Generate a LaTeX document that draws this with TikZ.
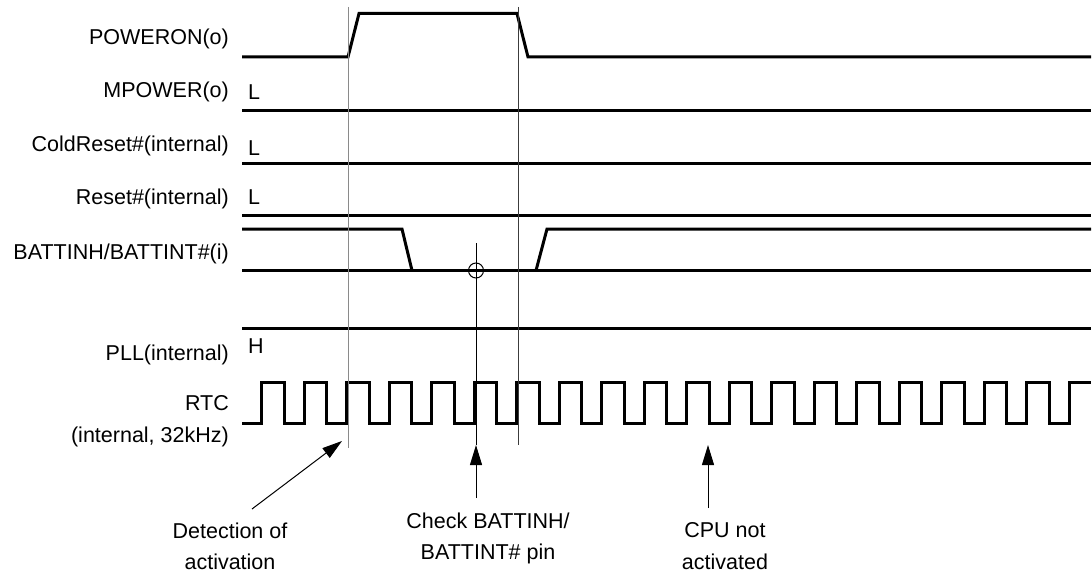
\documentclass[tikz,border=0pt]{standalone}
\usepackage{fontspec}
\setmainfont{Liberation Sans}
\usetikzlibrary{arrows.meta, positioning}
\definecolor{markGray}{HTML}{8A8A8A}
\definecolor{markDark}{HTML}{3C3C3C}

\begin{document}
\begin{tikzpicture}[x=1pt, y=-1pt,
  sig/.style={line width=3pt},
  lbl/.style={anchor=base east, inner sep=0pt, font=\fontsize{21.5}{31.5}\selectfont},
  lvl/.style={anchor=base west, inner sep=0pt, font=\fontsize{21.5}{31.5}\selectfont},
  note/.style={anchor=north, align=center, inner sep=0pt, font=\fontsize{21.5}{31.5}\selectfont},
  markline/.style={line width=1pt, markGray},
  arr/.style={-{Triangle[length=20pt, width=12pt]}, line width=1pt}
]
\useasboundingbox (0,0) rectangle (1092,575);

\node[lbl] (lpoweron) at (229,44.3) {POWERON(o)};
\node[lbl] (lmpower) at (229,98) {MPOWER(o)};
\node[lbl] (lcold) at (229,151.7) {ColdReset\#(internal)};
\node[lbl] (lreset) at (229,204.3) {Reset\#(internal)};
\node[lbl] (lbatt) at (229,259) {BATTINH/BATTINT\#(i)};
\node[lbl] (lpll) at (229,360) {PLL(internal)};
\node[lbl, anchor=north east, align=right] (lrtc) at (229,395.5) {RTC\\(internal, 32kHz)};

\node[lvl, right=19pt of lmpower.base east, anchor=base west, yshift=-2pt] (vmpower) {L};
\node[lvl, right=19pt of lcold.base east, anchor=base west, yshift=-4pt] (vcold) {L};
\node[lvl, right=19pt of lreset.base east, anchor=base west] (vreset) {L};
\node[lvl, right=19pt of lpll.base east, anchor=base west, yshift=7pt] (vpll) {H};

\draw[sig] (242,57) -- (348,57) -- (359,13.5) -- (517,13.5) -- (528,57) -- (1091,57);
\draw[sig] (242,111) -- (1091,111);
\draw[sig] (242,163.5) -- (1091,163.5);
\draw[sig] (242,215) -- (1091,215);
\draw[sig] (242,229) -- (402,229) -- (412,270.5);
\draw[sig] (536,270.5) -- (547,229) -- (1091,229);
\draw[sig] (242,270.5) -- (1091,270.5);
\draw[sig] (242,328) -- (1091,328);
\draw[sig] (242,423) \foreach \k in {0,...,18} {
  -- ({261.7+42.5*\k},423) -- ++(0,-40.5) -- ++(22.5,0) -- ++(0,40.5)
} -- (1069.2,423) -- (1069.2,382.5) -- (1091,382.5);

\coordinate (tdet) at (342,441);
\coordinate (tchk) at (476,445);
\coordinate (tcpu) at (708,445);

\draw[markline] (348,7) -- (348,448);
\draw[markline, markDark] (518,7) -- (518,445);
\draw[line width=1pt] (476,243) -- (tchk);
\draw[line width=1pt] (476,270.5) circle[radius=7.5];

\node[note] (det) at (230,522.3) {Detection of\\activation};
\node[note] (chk) at (488,512.3) {Check BATTINH/\\BATTINT\# pin};
\node[note] (cpu) at (725,522.3) {CPU not\\activated};

\draw[arr] ([shift={(22,-13.3)}]det.north) -- (tdet);
\draw[arr] ([shift={(-12,-14.3)}]chk.north) -- (tchk);
\draw[arr] ([shift={(-17,-14.3)}]cpu.north) -- (tcpu);
\end{tikzpicture}
\end{document}
